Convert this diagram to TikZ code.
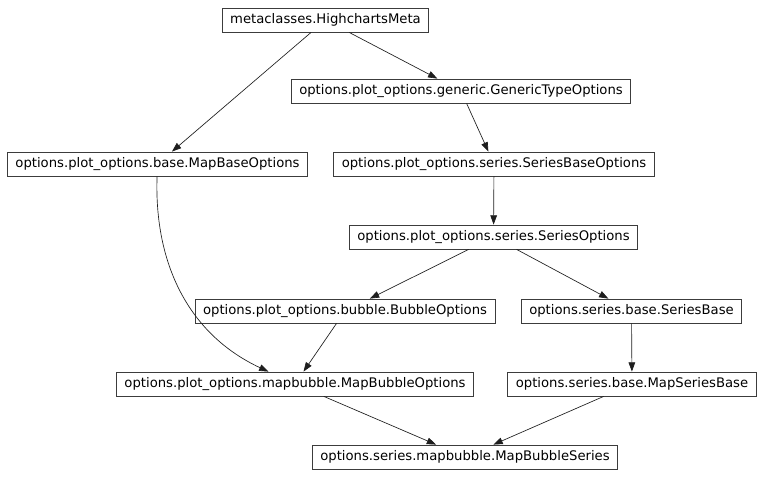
\documentclass[tikz,border=0pt]{standalone}
\usepackage{fontspec}
\setmainfont{DejaVu Sans}
\usetikzlibrary{arrows.meta}
\definecolor{IhLine}{RGB}{30,30,30}
\definecolor{IhBorder}{RGB}{60,60,60}
\tikzset{
  ih/box/.style={
    draw=IhBorder,
    line width=0.6pt,
    fill=white,
    align=center,
    text=black,
    minimum height=18pt,
    inner xsep=6pt,
    inner ysep=2pt,
    font=\fontsize{9.9}{12}\selectfont
  },
  ih/arrow/.style={-{Triangle[length=7pt,width=5pt]}, line width=0.5pt, draw=IhLine}
}
\begin{document}
\begin{tikzpicture}[x=0.75pt,y=-0.75pt]
  \useasboundingbox (0,0) rectangle (763,476);
  % classes, one row per rank
  \node[ih/box] (meta) at (325.5,20) {metaclasses.HighchartsMeta};
  \node[ih/box] (generic) at (461,91) {options.plot\_options.generic.GenericTypeOptions};
  \node[ih/box] (mapbase) at (157.5,164) {options.plot\_options.base.MapBaseOptions};
  \node[ih/box] (seriesbaseopts) at (494,164) {options.plot\_options.series.SeriesBaseOptions};
  \node[ih/box] (seriesopts) at (493.5,237) {options.plot\_options.series.SeriesOptions};
  \node[ih/box] (bubble) at (345,311) {options.plot\_options.bubble.BubbleOptions};
  \node[ih/box] (seriesbase) at (631.5,311) {options.series.base.SeriesBase};
  \node[ih/box] (mapbubbleopts) at (295,384) {options.plot\_options.mapbubble.MapBubbleOptions};
  \node[ih/box] (mapseriesbase) at (632,384) {options.series.base.MapSeriesBase};
  \node[ih/box] (mapbubbleseries) at (465,457) {options.series.mapbubble.MapBubbleSeries};
  % inheritance
  \draw[ih/arrow] (meta) -- (mapbase);
  \draw[ih/arrow] (meta) -- (generic);
  \draw[ih/arrow] (generic) -- (seriesbaseopts);
  \draw[ih/arrow] (seriesbaseopts) -- (seriesopts);
  \draw[ih/arrow] (seriesopts) -- (bubble);
  \draw[ih/arrow] (seriesopts) -- (seriesbase);
  \draw[ih/arrow] (mapbase) to[out=-92,in=155] (mapbubbleopts);
  \draw[ih/arrow] (bubble) -- (mapbubbleopts);
  \draw[ih/arrow] (seriesbase) -- (mapseriesbase);
  \draw[ih/arrow] (mapbubbleopts) -- (mapbubbleseries);
  \draw[ih/arrow] (mapseriesbase) -- (mapbubbleseries);
\end{tikzpicture}
\end{document}
